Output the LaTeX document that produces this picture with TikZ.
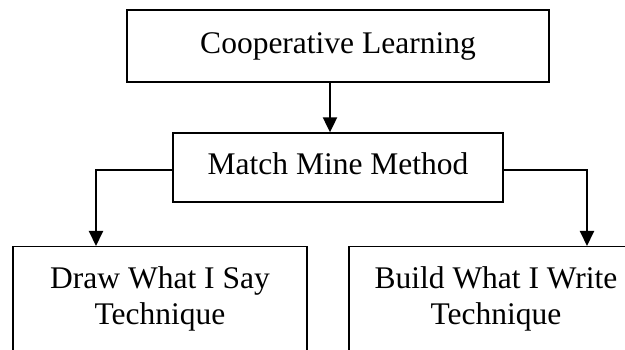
\documentclass[tikz,border=0pt]{standalone}
\usepackage{fontspec}
\setmainfont{Liberation Serif}
\usetikzlibrary{positioning,arrows.meta}

\begin{document}
\begin{tikzpicture}[x=1pt,y=-1pt,
    box/.style={draw, line width=1.3pt, font=\fontsize{31.5}{36}\selectfont, align=center, inner sep=0pt},
    arr/.style={line width=2pt, -{Triangle[length=15pt,width=14pt]}}]
    % Frame
    \clip (0,0) rectangle (625,350);
    % Top box
    \node[box, minimum width=422pt, minimum height=72pt] (coop) at (338,46) {Cooperative Learning};
    % Method box
    \node[box, minimum width=330pt, minimum height=69pt, text depth=8.5pt] (match) at (338,167.5) {Match Mine Method};
    % Technique boxes (cut off at the bottom)
    \node[box, anchor=north, minimum width=294pt, inner ysep=19.5pt, text depth=100pt] (drawtech) at (160,246) {Draw What I Say\\Technique};
    \node[box, anchor=north, minimum width=294pt, inner ysep=19.5pt, text depth=100pt] (buildtech) at (496,246) {Build What I Write\\Technique};
    % Arrows
    \draw[arr] ([xshift=-8pt]coop.south) -- ([xshift=-8pt]match.north);
    \draw[arr] ([yshift=-3pt]match.west) -| ([xshift=-64pt]drawtech.north);
    \draw[arr] ([yshift=-3pt]match.east) -| ([xshift=91pt]buildtech.north);
\end{tikzpicture}
\end{document}
